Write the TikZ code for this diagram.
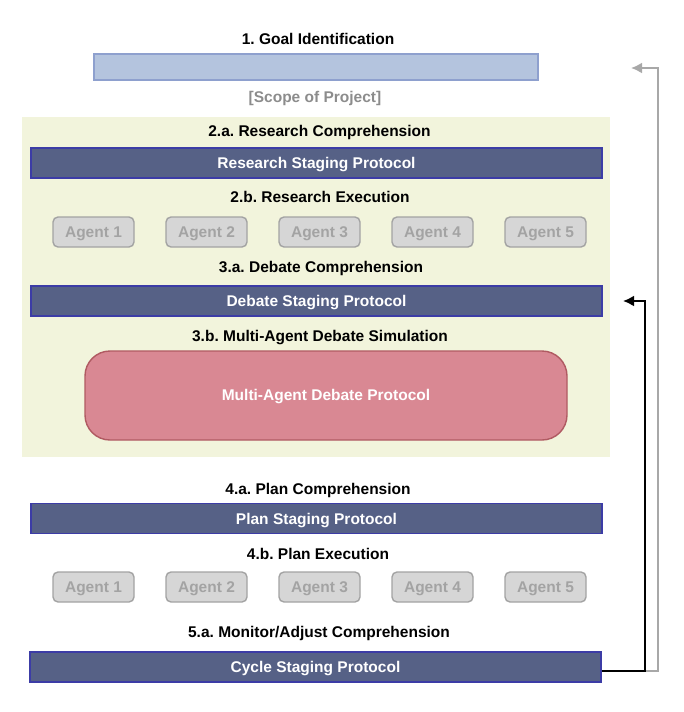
\documentclass[tikz,border=0pt]{standalone}
\usepackage{fontspec}
\setmainfont{Liberation Sans}
\usepackage{tikz}
\usetikzlibrary{arrows.meta}
\frenchspacing

\definecolor{goalfill}{HTML}{B4C4DE}
\definecolor{goalline}{HTML}{8EA0CE}
\definecolor{barfill}{HTML}{566186}
\definecolor{barline}{HTML}{3C3CA6}
\definecolor{agentfill}{HTML}{D6D6D6}
\definecolor{agentline}{HTML}{A3A3A3}
\definecolor{madfill}{HTML}{D98893}
\definecolor{madline}{HTML}{B05A62}
\definecolor{stagebg}{HTML}{F2F4DC}
\definecolor{loopgray}{HTML}{A8A8A8}

\begin{document}
\begin{tikzpicture}[x=1pt,y=-1pt,
    font=\fontsize{15.5}{18}\selectfont\bfseries,
    every node/.style={text depth=0pt},
    heading/.style={text=black},
    protocol/.style={draw=barline,line width=1.4pt,fill=barfill,text=white,
        minimum width=571pt,minimum height=30pt,inner sep=0pt},
    agent/.style={draw=agentline,line width=1.4pt,fill=agentfill,text=agentline,
        rounded corners=5pt,minimum width=81pt,minimum height=30pt,inner sep=0pt},
    >={Latex[length=11pt,width=11pt]}]
            \useasboundingbox (0,0) rectangle (684,712);
            \fill[stagebg] (22,117) rectangle (610,457);

            % goal
            \node[heading] (goaltitle) at (318,39) {1. Goal Identification};
            \node[draw=goalline,line width=1.4pt,fill=goalfill,minimum width=444pt,
                minimum height=26pt,inner sep=0pt] (goal) at (316,67) {};
            \node[text=black!45] (scope) at (315,97) {[Scope of Project]};

            % research
            \node[heading] (rtitle) at (319.5,131) {2.a. Research Comprehension};
            \node[protocol] (research) at (316.5,163) {Research Staging Protocol};
            \node[heading] (rexec) at (320,197) {2.b. Research Execution};
                 \foreach \i in {1,...,5}
                     \node[agent] (ra\i) at ({93.5+(\i-1)*113},232) {Agent \i};

            % debate
            \node[heading] (dtitle) at (321,267) {3.a. Debate Comprehension};
            \node[protocol] (debate) at (316.5,301) {Debate Staging Protocol};
            \node[heading] (dsim) at (320,336) {3.b. Multi-Agent Debate Simulation};
            \node[draw=madline,line width=1.4pt,fill=madfill,text=white,rounded corners=25pt,
                minimum width=482pt,minimum height=89pt] (mad) at (326,395.5)
                {\raisebox{2pt}{Multi-Agent Debate Protocol}};

            % plan
            \node[heading] (ptitle) at (318,489) {4.a. Plan Comprehension};
            \node[protocol] (plan) at (316.5,518.5) {Plan Staging Protocol};
            \node[heading] (pexec) at (318,554) {4.b. Plan Execution};
                 \foreach \i in {1,...,5}
                     \node[agent] (pa\i) at ({93.5+(\i-1)*113},587) {Agent \i};

            % cycle
            \node[heading] (mtitle) at (319,632) {5.a. Monitor/Adjust Comprehension};
            \node[protocol] (cycle) at (315.5,667) {Cycle Staging Protocol};

            % loops back
            \coordinate (goalin) at (631,68);
            \coordinate (debatein) at (623,301);
            \draw[->,loopgray,line width=2pt] ([yshift=-4pt]cycle.east) -| ([xshift=27pt]goalin) -- (goalin);
            \draw[->,black,line width=2pt] ([yshift=-4pt]cycle.east) -| ([xshift=22pt]debatein) -- (debatein);
\end{tikzpicture}
\end{document}
